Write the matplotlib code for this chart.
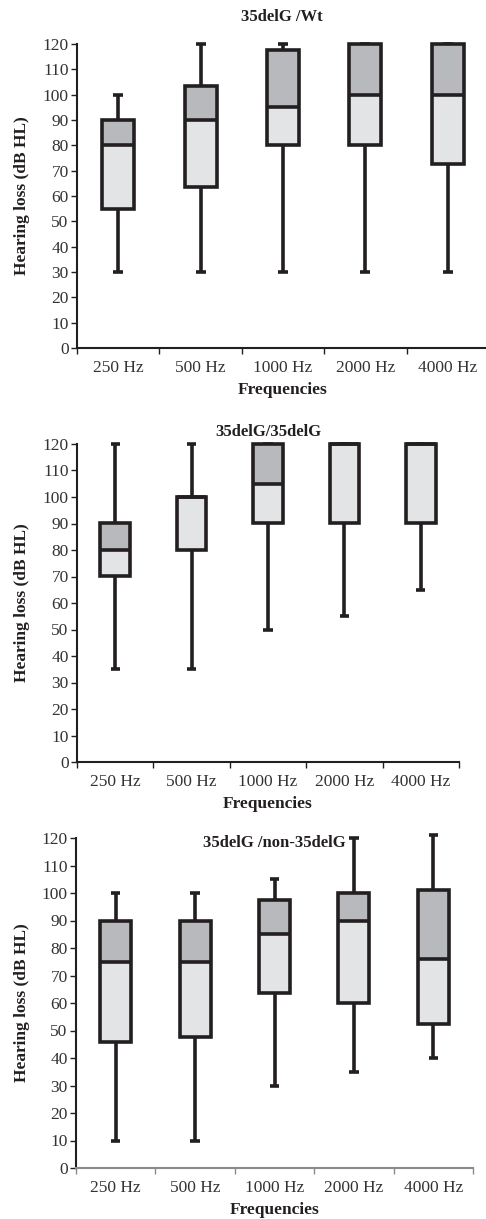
import matplotlib.pyplot as plt
import numpy as np

plt.rcParams['font.family'] = ['Liberation Serif', 'DejaVu Serif']

freqs = ["250 Hz", "500 Hz", "1000 Hz", "2000 Hz", "4000 Hz"]

# 35delG /Wt
wt_min = [30, 30, 30, 30, 30]
wt_q1 = [55, 63.5, 80, 80, 72.5]
wt_med = [80, 90, 95, 100, 100]
wt_q3 = [90, 103.5, 117.5, 120, 120]
wt_max = [100, 120, 120, 120, 120]

# 35delG/35delG
hom_min = [35, 35, 50, 55, 65]
hom_q1 = [70, 80, 90, 90, 90]
hom_med = [80, 100, 105, 120, 120]
hom_q3 = [90, 100, 120, 120, 120]
hom_max = [120, 120, 120, 120, 120]

# 35delG /non-35delG
het_min = [10, 10, 30, 35, 40]
het_q1 = [46, 47.5, 63.5, 60, 52.5]
het_med = [75, 75, 85, 90, 76]
het_q3 = [90, 90, 97.5, 100, 101]
het_max = [100, 100, 105, 120, 121]

panels = [
    ("35delG /Wt", wt_min, wt_q1, wt_med, wt_q3, wt_max),
    ("35delG/35delG", hom_min, hom_q1, hom_med, hom_q3, hom_max),
    ("35delG /non-35delG", het_min, het_q1, het_med, het_q3, het_max),
]

W, H = 486, 1219
# axes boxes in pixels: left, right, top(y=120), bottom(y=0)
boxes = [(77, 489, 44, 348), (77, 459, 444, 762), (76, 473, 838, 1168)]
title_pos = [(282, 17), (268, 432), (274, 843)]
spine_col = ["#231f20", "#231f20", "#8a8a8a"]

light = "#e3e4e6"
dark = "#b8b9bc"
edge = "#231f20"
txt = "#333333"

fig = plt.figure(figsize=(W / 100, H / 100), dpi=100)

for k, (title, mn, q1, med, q3, mx) in enumerate(panels):
    l, r, t, b = boxes[k]
    ax = fig.add_axes([l / W, 1 - b / H, (r - l) / W, (b - t) / H])
    x = np.arange(len(freqs))
    mn, q1, med, q3, mx = map(np.array, (mn, q1, med, q3, mx))

    # whiskers and caps
    ax.vlines(x, mn, q1, color=edge, lw=2.6, zorder=1)
    ax.vlines(x, q3, mx, color=edge, lw=2.6, zorder=1)
    ax.hlines(mn, x - 0.06, x + 0.06, color=edge, lw=2.6, zorder=1)
    ax.hlines(mx, x - 0.06, x + 0.06, color=edge, lw=2.6, zorder=1)

    # boxes: lower half light, upper half dark
    ax.bar(x, med - q1, bottom=q1, width=0.39, color=light, edgecolor="none", zorder=2)
    ax.bar(x, q3 - med, bottom=med, width=0.39, color=dark, edgecolor="none", zorder=2)
    ax.bar(x, q3 - q1, bottom=q1, width=0.39, facecolor="none", edgecolor=edge,
           linewidth=2.6, zorder=3)
    ax.hlines(med, x - 0.195, x + 0.195, color=edge, lw=2.6, zorder=4)

    ax.set_xlim(-0.5, len(freqs) - 0.5)
    ax.set_ylim(0, 120)
    ax.set_yticks(range(0, 121, 10))
    ax.set_xticks(x)
    ax.set_xticklabels(freqs)
    ax.set_xticks(np.arange(-0.5, len(freqs), 1), minor=True)
    ax.tick_params(axis="x", which="major", length=0, pad=9, labelsize=12.5, colors=txt)
    ax.tick_params(axis="x", which="minor", length=4, width=1, color=spine_col[k])
    ax.tick_params(axis="y", length=4, width=1, labelsize=12.5, colors=txt, pad=2)
    ax.tick_params(axis="y", color=edge)
    for s in ["top", "right"]:
        ax.spines[s].set_visible(False)
    ax.spines["left"].set_color(edge)
    ax.spines["left"].set_linewidth(1.5)
    ax.spines["bottom"].set_color(spine_col[k])
    ax.spines["bottom"].set_linewidth(1.5)
    for c in ax.get_children():
        try:
            c.set_clip_on(False)
        except Exception:
            pass

    ax.set_ylabel("Hearing loss (dB HL)", fontsize=12.5, fontweight="bold", color="#231f20")
    ax.yaxis.set_label_coords(-(l - 30) / (r - l), 0.5)
    ax.set_xlabel("Frequencies", fontsize=12.5, fontweight="bold", color="#231f20", labelpad=4)
    tx, ty = title_pos[k]
    fig.text(tx / W, 1 - ty / H, title, ha="center", va="center",
             fontsize=12, fontweight="bold", color="#231f20")

fig.savefig("out.png", dpi=100)
